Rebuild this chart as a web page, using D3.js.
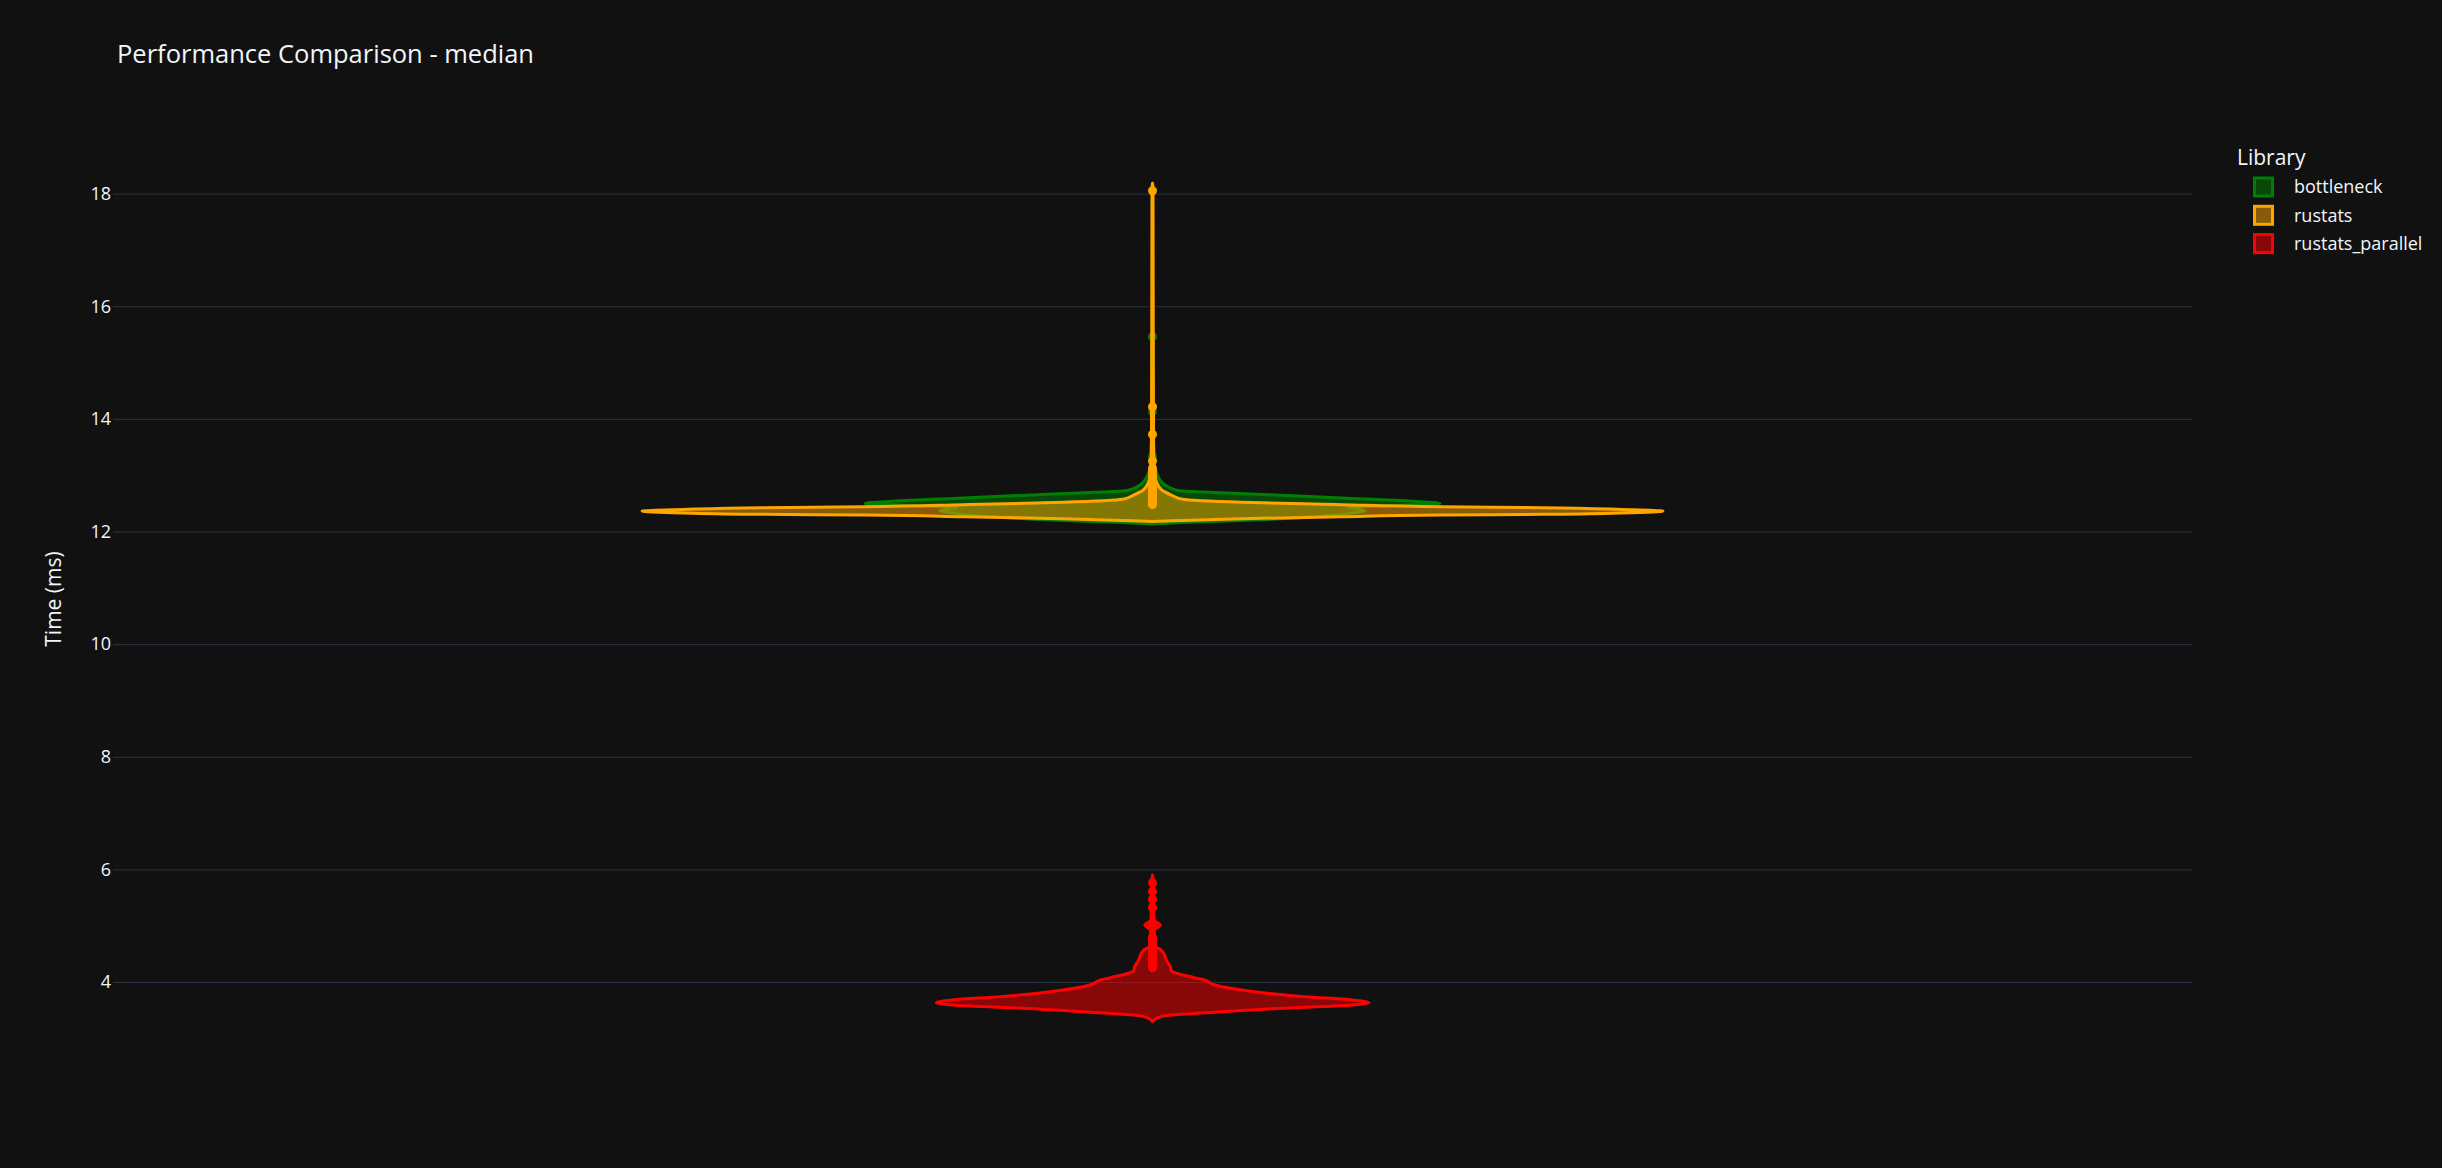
<!DOCTYPE html>
<html lang="en">
<head>
<meta charset="UTF-8">
<title>Performance Comparison - median</title>
<style>
    body { margin: 0; background: #111111; }
    text { font-family: "Open Sans", sans-serif; fill: #f2f5fa; }
    .grid line { stroke: #283442; stroke-width: 1px; }
</style>
</head>
<body>

<script src="https://cdn.jsdelivr.net/npm/d3@7/dist/d3.min.js"></script>
<script>

    const width = 2442;
    const height = 1168;

    const libraries = ['bottleneck', 'rustats', 'rustats_parallel'];
    const colors = ['#008000', '#ffa500', '#ff0000'];
    const yTicks = [4, 6, 8, 10, 12, 14, 16, 18];

    // violin outlines: [time (ms), relative density]
    const bottleneckDensity = [
        [12.133, 0], [12.16, 0.059], [12.204, 0.196], [12.258, 0.31], [12.302, 0.373],
        [12.323, 0.386], [12.373, 0.416], [12.423, 0.386], [12.44, 0.384], [12.462, 0.471],
        [12.499, 0.563], [12.537, 0.51], [12.595, 0.371], [12.657, 0.216], [12.70, 0.098],
        [12.728, 0.049], [12.879, 0.018], [13.039, 0.008], [13.18, 0.004], [13.8, 0.002],
        [15.5, 0.001], [15.56, 0]
    ];
    const rustatsDensity = [
        [12.178, 0], [12.19, 0.04], [12.21, 0.11], [12.227, 0.175], [12.263, 0.371],
        [12.293, 0.567], [12.305, 0.763], [12.329, 0.92], [12.364, 1.0], [12.391, 0.92],
        [12.423, 0.763], [12.44, 0.567], [12.476, 0.371], [12.519, 0.175], [12.572, 0.059],
        [12.648, 0.037], [12.737, 0.018], [12.879, 0.008], [13.003, 0.004], [13.6, 0.002],
        [18.1, 0.001], [18.184, 0]
    ];
    const parallelDensity = [
        [3.295, 0], [3.373, 0.012], [3.414, 0.037], [3.467, 0.129], [3.526, 0.233],
        [3.59, 0.392], [3.632, 0.424], [3.68, 0.392], [3.739, 0.298], [3.828, 0.2],
        [3.947, 0.122], [4.036, 0.102], [4.077, 0.082], [4.20, 0.037], [4.272, 0.035],
        [4.39, 0.027], [4.51, 0.022], [4.598, 0.012], [4.627, 0.004], [4.75, 0.003],
        [4.92, 0.004], [5.012, 0.015], [5.10, 0.003], [5.5, 0.002], [5.85, 0.001], [5.90, 0]
    ];

    // outlier points (ms)
    const bottleneckPoints = [15.459, 14.128, 13.328, 13.062, 13.0, 12.9, 12.85, 12.8, 12.75, 12.7];
    const rustatsPoints = [18.052, 14.216, 13.726, 13.252, 13.122, 13.062, 13.003, 12.95, 12.9,
        12.86, 12.82, 12.78, 12.74, 12.7, 12.66, 12.62, 12.58, 12.54, 12.5, 12.48];
    const parallelPoints = [5.763, 5.604, 5.469, 5.32, 5.05, 5.01, 4.97, 4.8, 4.75, 4.7, 4.65,
        4.6, 4.55, 4.5, 4.45, 4.4, 4.35, 4.3, 4.25];

    const densities = [bottleneckDensity, rustatsDensity, parallelDensity];
    const points = [bottleneckPoints, rustatsPoints, parallelPoints];

    const plot = {left: 113, right: 2192, top: 150, bottom: 1048};
    const violinHalfWidth = 0.2455;

    let svg = d3.select('body').append('svg')
        .attr('width', width)
        .attr('height', height);

    svg.append('rect')
        .attr('width', width)
        .attr('height', height)
        .attr('fill', '#111111');

    let x = d3.scaleLinear().domain([-0.5, 0.5]).range([plot.left, plot.right]);
    let y = d3.scaleLinear().domain([2.828, 18.775]).range([plot.bottom, plot.top]);

    // gridlines + tick labels
    let yAxis = svg.append('g')
        .attr('class', 'grid')
        .attr('transform', 'translate(' + plot.left + ',0)')
        .call(d3.axisLeft(y)
            .tickValues(yTicks)
            .tickSize(-(plot.right - plot.left))
            .tickPadding(2)
            .tickFormat(d3.format('d')));
    yAxis.select('.domain').remove();
    yAxis.selectAll('text')
        .attr('fill', '#f2f5fa')
        .style('font-size', '18px')
        .style('font-family', '"Open Sans", sans-serif');

    let area = d3.area()
        .y(function (d) { return y(d[0]); })
        .x0(function (d) { return x(-d[1] * violinHalfWidth); })
        .x1(function (d) { return x(d[1] * violinHalfWidth); })
        .curve(d3.curveMonotoneY);

    libraries.forEach(function (lib, i) {
        let g = svg.append('g').attr('class', 'violin');
        g.append('path')
            .datum(densities[i])
            .attr('d', area)
            .attr('fill', colors[i])
            .attr('fill-opacity', 0.5)
            .attr('stroke', colors[i])
            .attr('stroke-width', 3)
            .attr('stroke-linejoin', 'round');
        g.selectAll('circle')
            .data(points[i])
            .enter().append('circle')
            .attr('cx', x(0))
            .attr('cy', function (d) { return y(d); })
            .attr('r', 4.5)
            .attr('fill', colors[i]);
    });

    // title and axis title
    svg.append('text')
        .attr('x', 117)
        .attr('y', 63)
        .style('font-size', '25.5px')
        .text('Performance Comparison - median');

    svg.append('text')
        .attr('transform', 'translate(54,' + ((plot.top + plot.bottom) / 2) + ') rotate(-90)')
        .attr('text-anchor', 'middle')
        .attr('dy', '0.35em')
        .style('font-size', '21px')
        .text('Time (ms)');

    // legend
    let legend = svg.append('g').attr('transform', 'translate(2237,0)');
    legend.append('text')
        .attr('x', 0)
        .attr('y', 165)
        .style('font-size', '21px')
        .text('Library');

    let items = legend.selectAll('g.item')
        .data(libraries)
        .enter().append('g')
        .attr('class', 'item')
        .attr('transform', function (d, i) { return 'translate(0,' + (187 + i * 28.3) + ')'; });
    items.append('rect')
        .attr('x', 17.5)
        .attr('y', -9)
        .attr('width', 18)
        .attr('height', 18)
        .attr('fill', function (d, i) { return colors[i]; })
        .attr('fill-opacity', 0.5)
        .attr('stroke', function (d, i) { return colors[i]; })
        .attr('stroke-width', 3);
    items.append('text')
        .attr('x', 57)
        .attr('dy', '0.35em')
        .style('font-size', '18px')
        .text(function (d) { return d; });

</script>
</body>
</html>
